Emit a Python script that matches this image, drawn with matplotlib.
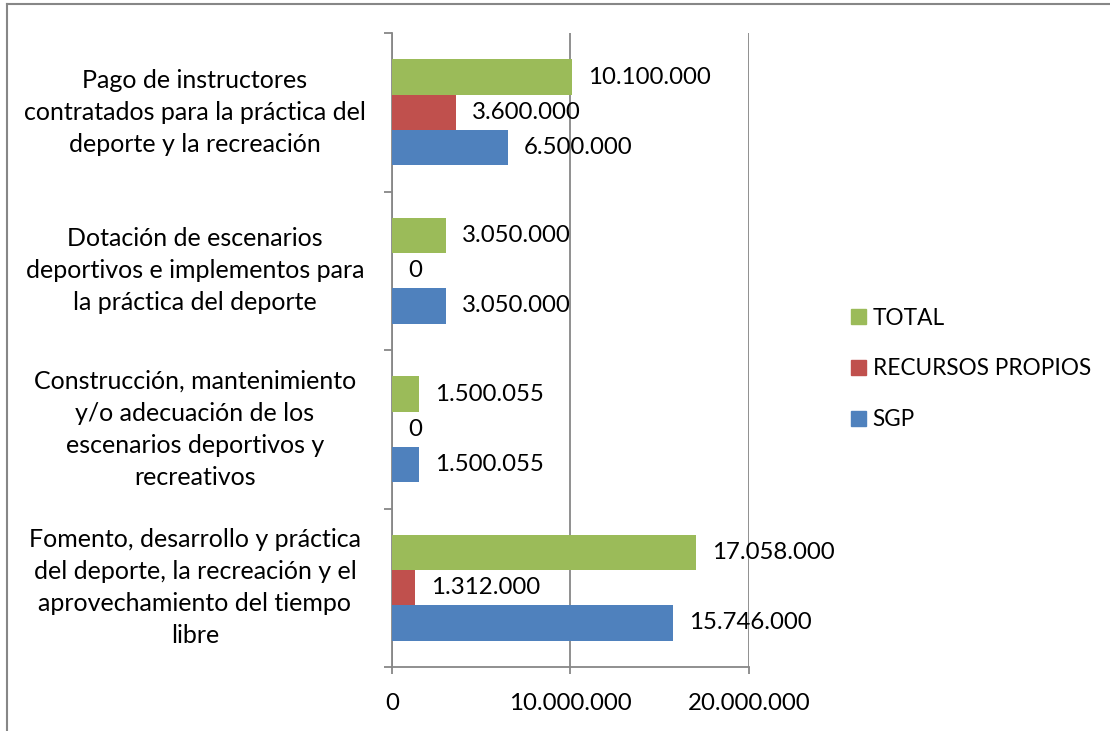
import matplotlib
matplotlib.use("Agg")
import matplotlib.pyplot as plt
from matplotlib.patches import Patch
from matplotlib.lines import Line2D
import matplotlib.transforms as mtransforms
import numpy as np

plt.rcParams['font.family'] = ['Lato', 'DejaVu Sans']

categories = [
    "Fomento, desarrollo y práctica\ndel deporte, la recreación y el\naprovechamiento del tiempo\nlibre",
    "Construcción, mantenimiento\ny/o adecuación de los\nescenarios deportivos y\nrecreativos",
    "Dotación de escenarios\ndeportivos e implementos para\nla práctica del deporte",
    "Pago de instructores\ncontratados para la práctica del\ndeporte y la recreación",
]
series_names = ["SGP", "RECURSOS PROPIOS", "TOTAL"]
sgp = [15746000, 1500055, 3050000, 6500000]
recursos_propios = [1312000, 0, 0, 3600000]
total = [17058000, 1500055, 3050000, 10100000]
series_values = [sgp, recursos_propios, total]
colors = ["#4F81BD", "#C0504D", "#9BBB59"]
xticks = [0, 10000000, 20000000]


def fmt(v):
    return f"{v:,.0f}".replace(",", ".")


W, H = 1110, 731
fig = plt.figure(figsize=(W / 100, H / 100), dpi=100)
ax = fig.add_axes([392 / W, 1 - 667 / H, (748.7 - 392) / W, (667 - 33) / H])

FS = 17.3
CAT_FS = 18
grid_c = "#878787"
h = 1 / 4.5
y = np.arange(len(categories))
offsets = [-h, 0, h]
for vals, off, col in zip(series_values, offsets, colors):
    bars = ax.barh(y + off, vals, height=h, color=col, zorder=3)
    for b, v in zip(bars, vals):
        ax.annotate(fmt(v), xy=(v, b.get_y() + b.get_height() / 2),
                    xytext=(11.5, 0), textcoords="offset points",
                    ha="left", va="center", fontsize=FS, zorder=4)

ax.set_xlim(0, 20000000)
ax.set_ylim(-0.5, len(categories) - 0.5)
ax.set_xticks(xticks)
ax.set_xticklabels([fmt(t) for t in xticks], fontsize=FS)
ax.tick_params(axis="x", length=5, width=1.3, color=grid_c, pad=14)
ax.xaxis.grid(True, color=grid_c, linewidth=1.3, zorder=0)

ax.set_yticks(y)
ax.set_yticklabels([])
ax.tick_params(axis="y", which="major", length=0)
ax.set_yticks(np.arange(-0.5, len(categories), 1.0), minor=True)
ax.tick_params(axis="y", which="minor", length=6, width=1.3, color=grid_c)

for s in ["top", "right"]:
    ax.spines[s].set_visible(False)
for s in ["left", "bottom"]:
    ax.spines[s].set_color(grid_c)
    ax.spines[s].set_linewidth(1.3)

trans = mtransforms.blended_transform_factory(fig.transFigure, ax.transData)
for yi, cat in zip(y, categories):
    ax.text(195 / W, yi, cat, transform=trans, ha="center", va="center",
            multialignment="center", fontsize=CAT_FS, linespacing=1.47)

handles = [Patch(color=c) for c in colors][::-1]
labels = series_names[::-1]
fig.legend(handles, labels, loc="center left", bbox_to_anchor=(851 / W, 1 - 369 / H),
           frameon=False, fontsize=16.3, handlelength=0.65, handleheight=0.65,
           handletextpad=0.3, labelspacing=1.32, borderaxespad=0, borderpad=0)

# outer frame (top and left visible)
fig.add_artist(Line2D([7 / W, 7 / W], [0, 1 - 4 / H], transform=fig.transFigure,
                      color=grid_c, linewidth=1.5))
fig.add_artist(Line2D([7 / W, 1], [1 - 4 / H, 1 - 4 / H], transform=fig.transFigure,
                      color=grid_c, linewidth=1.5))

fig.savefig("out.png", dpi=100)
